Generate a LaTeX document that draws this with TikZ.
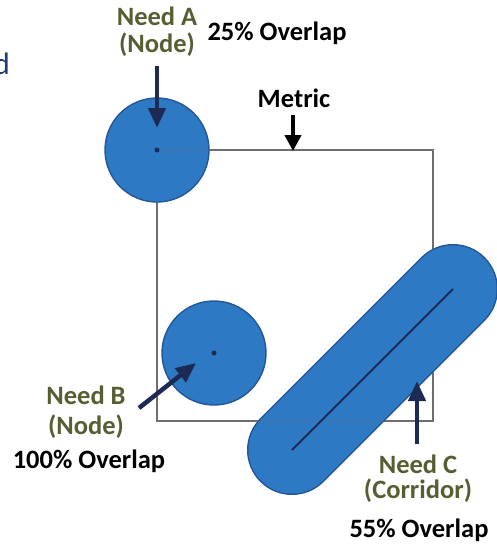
\documentclass[tikz,border=0pt]{standalone}
\usepackage{fontspec}
\setmainfont{Carlito}
\usetikzlibrary{arrows.meta}
\definecolor{fillblue}{RGB}{46,121,196}
\definecolor{edgeblue}{RGB}{34,86,150}
\definecolor{navy}{RGB}{28,42,84}
\definecolor{olive}{RGB}{88,94,50}
\definecolor{titleblue}{RGB}{31,60,120}
\definecolor{rectgray}{RGB}{110,110,110}
\tikzset{
  lbl/.style={font=\fontsize{26.5}{30}\selectfont\bfseries, inner sep=0pt, align=center},
  needlbl/.style={lbl, text=olive},
  pctlbl/.style={lbl, text=black},
  needdisk/.style={circle, fill=fillblue, draw=edgeblue, line width=1.4pt, minimum size=104pt, inner sep=0pt},
  centerdot/.style={circle, fill=navy, inner sep=0pt, minimum size=5pt},
  bigarrow/.style={draw=navy, line width=4.5pt, -{Triangle[length=20pt,width=17pt]}},
  metricarrow/.style={draw=black, line width=4pt, -{Triangle[length=16pt,width=16pt]}},
}
\begin{document}
\begin{tikzpicture}[x=1pt,y=-1pt]
\useasboundingbox (0,0) rectangle (496,546);
% metric rectangle (below shapes)
\coordinate (r1) at (157,150);
\coordinate (r2) at (433,421);
\draw[rectgray, line width=1.2pt] (r1) rectangle (r2);
% need A and B discs
\node[needdisk] (diskA) at (157,150) {};
\node[needdisk] (diskB) at (214,353) {};
% corridor
\coordinate (c1) at (292,450);
\coordinate (c2) at (453,289);
\draw[edgeblue, line width=90pt, line cap=round] (c1) -- (c2);
\draw[fillblue, line width=87pt, line cap=round] (c1) -- (c2);
% rectangle seen through shapes
\draw[rectgray, line width=0.9pt, opacity=0.45] (r1) rectangle (r2);
\draw[navy, line width=1.8pt] (c1) -- (c2);
% center dots
\node[centerdot] (dotA) at (diskA.center) {};
\node[centerdot] (dotB) at (diskB.center) {};
% title fragment
\node[font=\fontsize{31}{31}\selectfont, text=titleblue, inner sep=0pt, anchor=east] (title) at (10,64) {d};
% labels
\node[needlbl] (needA) at (157,16) {Need A};
\node[needlbl] (nodeA) at (157,45) {(Node)};
\node[pctlbl] (pctA) at (277,33) {25\% Overlap};
\node[pctlbl] (metric) at (294,98) {Metric};
\node[needlbl] (needB) at (86,395) {Need B};
\node[needlbl] (nodeB) at (86,427) {(Node)};
\node[pctlbl] (pctB) at (89,461) {100\% Overlap};
\node[needlbl] (needC) at (418,464) {Need C};
\node[needlbl] (corrC) at (418,491) {(Corridor)};
\node[pctlbl] (pctC) at (419,530) {55\% Overlap};
% arrows
\coordinate (aTail) at (157,66);
\coordinate (aTip) at (157,128);
\draw[bigarrow] (aTail) -- (aTip);
\coordinate (mTail) at (293,115);
\coordinate (mTip) at (293,151);
\draw[metricarrow] (mTail) -- (mTip);
\coordinate (bTail) at (139,408);
\coordinate (bTip) at (196,363);
\draw[bigarrow] (bTail) -- (bTip);
\coordinate (cTail) at (417,444);
\coordinate (cTip) at (417,381);
\draw[bigarrow] (cTail) -- (cTip);
\end{tikzpicture}
\end{document}
